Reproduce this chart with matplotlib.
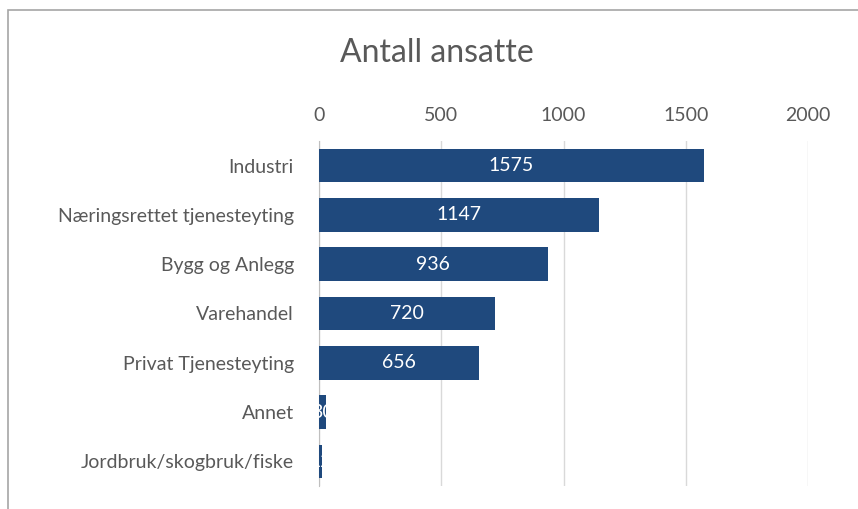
import matplotlib
matplotlib.use('Agg')
import matplotlib.pyplot as plt
from matplotlib.patches import Rectangle

categories = ['Industri', 'Næringsrettet tjenesteyting', 'Bygg og Anlegg', 'Varehandel',
              'Privat Tjenesteyting', 'Annet', 'Jordbruk/skogbruk/fiske']
values = [1575, 1147, 936, 720, 656, 30, 12]
xticks = [0, 500, 1000, 1500, 2000]

plt.rcParams['font.family'] = ['Lato', 'DejaVu Sans']
text_col = '#595959'
bar_col = '#1F497D'

fig = plt.figure(figsize=(8.58, 5.09), dpi=100)
ax = fig.add_axes([319 / 858, 1 - 486 / 509, (808 - 319) / 858, (486 - 141) / 509])

ypos = list(range(len(categories)))
bars = ax.barh(ypos, values, height=0.68, color=bar_col, zorder=3)
for b, v in zip(bars, values):
    ax.text(v / 2, b.get_y() + b.get_height() / 2, str(v), ha='center', va='center',
            color='white', fontsize=14, zorder=4)

ax.set_ylim(len(categories) - 0.5, -0.5)
ax.set_xlim(0, 2000)
ax.set_yticks(ypos)
ax.set_yticklabels(categories, fontsize=14, color=text_col)
ax.set_xticks(xticks)
ax.set_xticklabels([str(t) for t in xticks], fontsize=14, color=text_col)
ax.xaxis.tick_top()
ax.tick_params(axis='x', length=0, pad=12)
ax.tick_params(axis='y', length=0, pad=18)
ax.grid(axis='x', color='#D9D9D9', linewidth=1, zorder=0)
for s in ['top', 'right', 'bottom']:
    ax.spines[s].set_visible(False)
ax.spines['left'].set_color('#BFBFBF')

fig.text(437 / 858, 1 - 53 / 509, 'Antall ansatte', ha='center', va='center',
         fontsize=23, color=text_col)

# chart border (cropped on right and bottom)
fig.patches.append(Rectangle((8 / 858, -0.1), 1.2, 1 - 10 / 509 + 0.1, transform=fig.transFigure,
                             fill=False, edgecolor='#A6A6A6', linewidth=1.2, figure=fig))

fig.savefig('out.png', dpi=100)
